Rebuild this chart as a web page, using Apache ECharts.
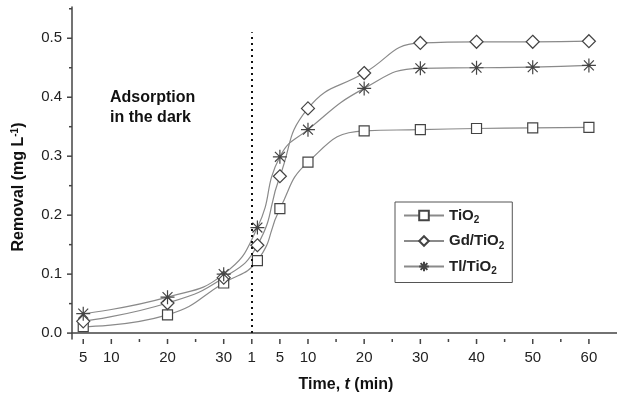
<!DOCTYPE html>
<html>
<head>
<meta charset="utf-8">
<script src="https://cdn.jsdelivr.net/npm/echarts@6/dist/echarts.min.js"></script>
<style>html,body{margin:0;padding:0;background:#fff}#c{width:617px;height:398px}</style>
</head>
<body>
<div id="c"></div>
<script>
// ---- data ----
const darkTimes = [5, 20, 30];                 // min, adsorption in the dark
const lightTimes = [1, 5, 10, 20, 30, 40, 50, 60]; // min, under irradiation
const lightOffset = 35;                        // axis units where the light segment starts
const seriesNames = ['TiO2', 'Gd/TiO2', 'Tl/TiO2'];
const tio2 = [0.011, 0.031, 0.085, 0.123, 0.211, 0.290, 0.343, 0.345, 0.347, 0.348, 0.349];
const gdTio2 = [0.020, 0.051, 0.094, 0.149, 0.266, 0.381, 0.441, 0.492, 0.494, 0.494, 0.495];
const tlTio2 = [0.033, 0.061, 0.100, 0.179, 0.299, 0.345, 0.415, 0.449, 0.450, 0.451, 0.454];
const xMajorTicks = [5, 10, 20, 30, 35, 40, 45, 55, 65, 75, 85, 95];
const xTickLabels = ['5', '10', '20', '30', '1', '5', '10', '20', '30', '40', '50', '60'];
const xMinorTicks = [15, 25, 50, 60, 70, 80, 90];
const yMajorTicks = [0, 0.1, 0.2, 0.3, 0.4, 0.5];
const yMinorTicks = [0.05, 0.15, 0.25, 0.35, 0.45, 0.55];

const X_MIN = 3, X_MAX = 100, Y_MIN = -0.01, Y_MAX = 0.553;
const xs = darkTimes.concat(lightTimes.map(t => t + lightOffset));
const pairs = arr => arr.map((v, i) => [xs[i], v]);

const FONT = "'Liberation Sans', Arial, sans-serif";
const AXIS_COLOR = '#444';
const starPath = 'path://M0,-10L0,10M-10,0L10,0M-7.07,-7.07L7.07,7.07M-7.07,7.07L7.07,-7.07';
const symbols = ['rect', 'diamond', starPath];
const sizes = [10, 13, 14];
const datas = [tio2, gdTio2, tlTio2];

const series = seriesNames.map((name, i) => ({
  name: name,
  type: 'line',
  data: pairs(datas[i]),
  smooth: 0.5,
  symbol: symbols[i],
  symbolSize: sizes[i],
  showAllSymbol: true,
  lineStyle: { color: '#8a8a8a', width: 1.2 },
  itemStyle: { color: i === 2 ? 'transparent' : '#fff', borderColor: '#444', borderWidth: 1.2 },
  z: 3
}));
series[0].markLine = {
  silent: true,
  symbol: 'none',
  label: { show: false },
  lineStyle: { color: '#111', type: [2, 4], width: 2 },
  data: [[{ coord: [lightOffset, 0] }, { coord: [lightOffset, 0.51] }]]
};

// axis ticks drawn through the axis scales (major long, minor short)
series.push({
  type: 'custom', silent: true, clip: false, z: 5,
  data: xMajorTicks.map(v => [v, Y_MIN, 1]).concat(xMinorTicks.map(v => [v, Y_MIN, 0])),
  renderItem: (params, api) => {
    const p = api.coord([api.value(0), Y_MIN]);
    const len = api.value(2) ? 5 : 3;
    return { type: 'line', shape: { x1: p[0], y1: p[1], x2: p[0], y2: p[1] + len },
      style: { stroke: AXIS_COLOR, lineWidth: 1.5 } };
  }
});
series.push({
  type: 'custom', silent: true, clip: false, z: 5,
  data: yMajorTicks.map(v => [X_MIN, v, 1]).concat(yMinorTicks.map(v => [X_MIN, v, 0])),
  renderItem: (params, api) => {
    const p = api.coord([X_MIN, api.value(1)]);
    const len = api.value(2) ? 5 : 3;
    return { type: 'line', shape: { x1: p[0], y1: p[1], x2: p[0] - len, y2: p[1] },
      style: { stroke: AXIS_COLOR, lineWidth: 1.5 } };
  }
});

const legendRich = {
  b: { fontFamily: FONT, fontWeight: 'bold', fontSize: 15, color: '#222' },
  s: { fontFamily: FONT, fontWeight: 'bold', fontSize: 10, color: '#222', verticalAlign: 'bottom', padding: [10, 0, 0, 0] }
};

const chart = echarts.init(document.getElementById('c'));
chart.setOption({
  animation: false,
  backgroundColor: '#fff',
  grid: { left: 72, right: 0, top: 7, bottom: 59, containLabel: false },
  xAxis: {
    type: 'value', min: X_MIN, max: X_MAX, position: 'bottom',
    axisLine: { show: true, lineStyle: { color: AXIS_COLOR, width: 1.5 } },
    axisTick: { show: false },
    axisLabel: {
      customValues: xMajorTicks, margin: 11, fontFamily: FONT, fontSize: 15, color: '#222',
      formatter: v => xTickLabels[xMajorTicks.indexOf(v)]
    },
    splitLine: { show: false }
  },
  yAxis: {
    type: 'value', min: Y_MIN, max: Y_MAX, position: 'left',
    axisLine: { show: true, lineStyle: { color: AXIS_COLOR, width: 1.5 } },
    axisTick: { show: false },
    axisLabel: {
      customValues: yMajorTicks, margin: 10, fontFamily: FONT, fontSize: 15, color: '#222',
      formatter: v => v.toFixed(1)
    },
    splitLine: { show: false }
  },
  legend: {
    orient: 'vertical', left: 395, top: 202,
    padding: [6, 8, 6, 8],
    borderColor: '#555', borderWidth: 1,
    itemWidth: 40, itemHeight: 12, itemGap: 8,
    data: seriesNames,
    formatter: name => {
      const base = name.slice(0, -1);
      return '{b|' + base + '}{s|2}';
    },
    textStyle: { rich: legendRich, color: '#222' }
  },
  graphic: [{
    type: 'text', left: 110, top: 88,
    style: { text: 'Adsorption\nin the dark', fontFamily: FONT, fontWeight: 'bold', fontSize: 16, lineHeight: 20, fill: '#111' }
  }, {
    type: 'text', x: 346, y: 385,
    style: {
      text: '{n|Time, }{i|t}{n| (min)}', align: 'center', verticalAlign: 'middle',
      rich: {
        n: { fontFamily: FONT, fontWeight: 'bold', fontSize: 16, fill: '#111' },
        i: { fontFamily: FONT, fontWeight: 'bold', fontStyle: 'italic', fontSize: 16, fill: '#111' }
      }
    }
  }, {
    type: 'text', x: 19, y: 187, rotation: Math.PI / 2,
    style: {
      text: '{n|Removal (mg L}{s|-1}{n|)}', align: 'center', verticalAlign: 'middle',
      rich: {
        n: { fontFamily: FONT, fontWeight: 'bold', fontSize: 16, fill: '#111' },
        s: { fontFamily: FONT, fontWeight: 'bold', fontSize: 10, fill: '#111', verticalAlign: 'top', padding: [0, 0, 8, 0] }
      }
    }
  }],
  series: series
});
</script>
</body>
</html>
